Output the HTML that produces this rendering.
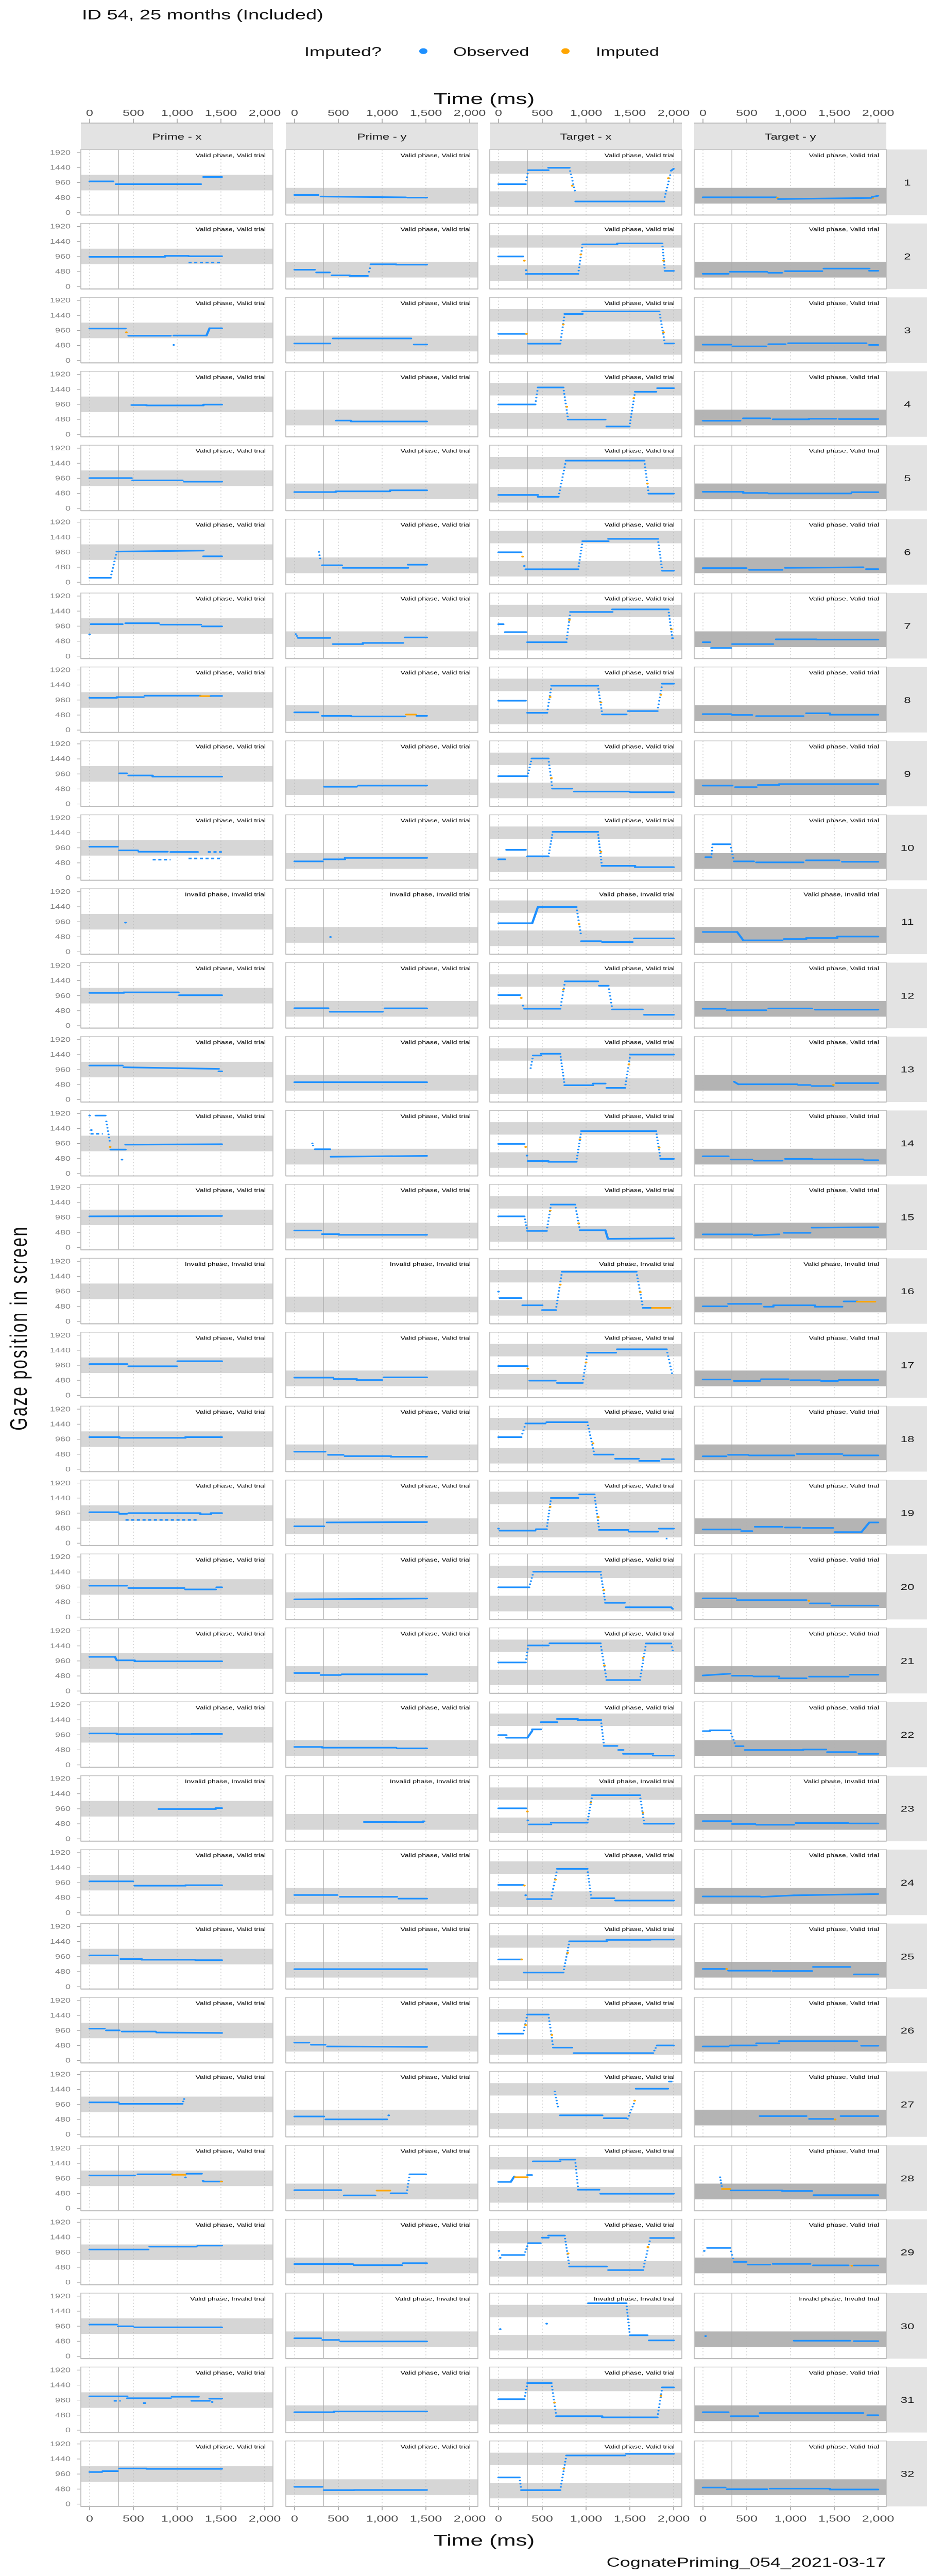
<!DOCTYPE html>
<html><head><meta charset="utf-8"><style>
html,body{margin:0;padding:0;background:#fff;width:100vw;height:100vh;overflow:hidden}
svg{display:block;position:absolute;left:0;top:0}
svg text{font-family:"Liberation Sans",sans-serif}
</style></head><body>
<svg id="chart" xmlns="http://www.w3.org/2000/svg" width="100%" height="100%" viewBox="0 0 1800 7200" preserveAspectRatio="none">
<rect x="0" y="0" width="1800" height="7200" fill="#fff"/>
<text x="159" y="54" font-size="38" fill="#111">ID 54, 25 months (Included)</text>
<g>
<text x="591" y="157" font-size="36" fill="#111">Imputed?</text>
<circle cx="822" cy="143" r="8" fill="#1E90FF"/>
<text x="880" y="156" font-size="34" fill="#111">Observed</text>
<circle cx="1098" cy="143" r="8" fill="#FFA500"/>
<text x="1157" y="156" font-size="34" fill="#111">Imputed</text>
</g>
<text x="940" y="291" font-size="44" text-anchor="middle" fill="#111">Time (ms)</text>
<text x="940" y="7115" font-size="44" text-anchor="middle" fill="#111">Time (ms)</text>
<text transform="translate(52,3712) rotate(-90)" font-size="46" text-anchor="middle" fill="#111" letter-spacing="4">Gaze position in screen</text>
<text x="1720" y="7174" font-size="36" text-anchor="end" fill="#111">CognatePriming_054_2021-03-17</text>
<g id="plots"></g>
</svg>
<script>
const facetNames = ["Prime - x","Prime - y","Target - x","Target - y"];
const xTicks = [0,500,1000,1500,2000];
const xTickLabels = ["0","500","1,000","1,500","2,000"];
const yTicks = [0,480,960,1440,1920];
const yTickLabels = ["0","480","960","1440","1920"];
const onsetTime = 330;
const bandsLight = [[[713,1210]],[[290,792]],[[1245,1642],[184,681]],[]];
const bandsDark = [[],[],[],[[290,792]]];
const labelsPrime = ["V","V","V","V","V","V","V","V","V","V","I","V","V","V","V","I","V","V","V","V","V","V","I","V","V","V","V","V","V","VI","V","V"];
const labelsTarget = ["V","V","V","V","V","V","V","V","V","V","VI","V","V","V","V","VI","V","V","V","V","V","V","VI","V","V","V","V","V","V","I","V","V"];
const labelText = {V:"Valid phase, Valid trial", I:"Invalid phase, Invalid trial", VI:"Valid phase, Invalid trial"};
// segments: [t0,t1,y] flat observed; [t0,t1,y0,y1] sloped; [t0,t1,y0,y1,k] k=1 dotted, 2 imputed line, 3 imputed dot, 4 sparse observed
const gaze = [
[[[0,270,1000],[300,1270,910],[1300,1510,1140]],[[0,270,565],[300,1270,515,490],[1290,1510,480]],[[0,310,911],[310,340,911,1357,1],[340,570,1357],[570,810,1434],[810,880,1434,600,1],[842,842,860,860,3],[880,1890,358],[1890,1970,400,1300,1],[1940,1940,1100,1100,3],[1970,2000,1340,1400]],[[0,835,491],[850,850,470,470,3],[860,1930,435,471],[1940,1940,470,470,3],[1930,2000,500,540]]],
[[[0,860,950],[860,1130,980],[1130,1510,970],[1130,1510,768,768,4]],[[0,230,538],[250,400,451],[425,630,359],[630,835,340],[840,870,360,700,1],[870,1160,713],[1160,1510,700]],[[0,280,961],[295,295,828,828,3],[315,315,520,520,1],[315,910,405],[910,960,405,1348,1],[940,940,1026,1026,3],[960,1355,1348],[1355,1870,1380],[1870,1900,1380,501,1],[1885,1885,828,828,3],[1900,2000,501]],[[0,290,409],[310,730,474],[750,900,441],[940,1360,492],[1380,1900,575],[1900,2000,506]]],
[[[0,410,1021],[420,420,900,900,3],[445,925,791],[960,1335,796],[1335,1370,796,1030],[1370,1510,1030],[950,970,497,497,4]],[[0,405,543],[440,1330,704],[1365,1510,510]],[[0,310,851],[320,320,851,851,3],[340,705,538],[705,755,538,1486,1],[740,740,1150,1150,3],[755,960,1486],[960,1836,1569],[1836,1900,1569,543,1],[1885,1885,902,902,3],[1900,2000,543]],[[0,320,506],[340,720,451],[750,940,520],[975,1865,552],[1900,2000,497]]],
[[[480,650,938],[650,1300,925],[1300,1510,952]],[[475,645,442],[645,1510,414]],[[0,420,957],[420,450,957,1500,1],[450,740,1500],[740,795,1500,474,1],[780,780,883,883,3],[795,1220,474],[1235,1495,253],[1495,1560,253,1362,1],[1545,1545,1159,1159,3],[1560,1800,1362],[1815,2000,1477]],[[0,425,437],[460,765,515],[800,1210,483],[1210,1520,501],[1555,2000,492]]],
[[[0,480,966],[490,1060,892],[1080,1510,851]],[[0,470,520],[470,1090,543],[1090,1510,575]],[[0,450,428],[450,685,368],[685,770,368,1523,1],[770,1665,1523],[1665,1715,1523,469,1],[1700,1700,791,791,3],[1715,2000,469]],[[0,460,529],[460,735,492],[750,1690,474],[1700,2000,515]]],
[[[0,240,143],[240,310,143,980,1],[310,1300,980,1012],[1300,1510,828]],[[270,300,1072,658,1],[315,540,543],[555,1295,460],[1295,1510,561]],[[0,260,957],[275,275,819,819,3],[295,295,520,520,1],[310,910,414],[910,960,414,1311,1],[960,1255,1311],[1255,1820,1385],[1820,1870,1385,368,1],[1870,2000,368]],[[0,495,451],[530,905,396],[940,1830,460,478],[1865,2000,419]]],
[[[0,0,695,695,1],[15,375,1021],[410,790,1053],[810,1270,1007],[1285,1510,952]],[[0,40,768,584,1],[40,405,584],[440,780,386],[780,1240,423],[1260,1510,598]],[[0,55,1021],[75,315,768],[330,775,446],[775,820,446,1412,1],[810,810,1159,1159,3],[820,1300,1412],[1300,1940,1495],[1940,1985,1495,575,1],[1975,1975,860,860,3],[1985,1990,575]],[[0,80,446],[95,320,262],[335,800,386],[835,1295,538],[1295,2000,529]]],
[[[0,310,1030],[310,615,1053],[630,1265,1099],[1265,1385,1085,1085,2],[1385,1510,1090]],[[0,270,566],[315,645,455],[645,1260,437],[1275,1385,497,497,2],[1395,1510,455]],[[0,310,938],[330,555,552],[555,605,552,1417,1],[590,590,1058,1058,3],[605,1135,1417],[1135,1185,1417,501,1],[1170,1170,883,883,3],[1185,1460,501],[1480,1815,607],[1815,1870,607,1481,1],[1855,1855,1127,1127,3],[1870,2000,1481]],[[0,320,510],[335,560,483],[610,1145,446],[1180,1450,538],[1450,2000,492]]],
[[[340,425,980],[445,720,911],[720,1510,874]],[[340,710,552],[730,1510,589]],[[0,330,888],[330,380,888,1454,1],[380,570,1454],[570,615,1454,492,1],[605,605,828,828,3],[615,840,492],[865,1495,396],[1505,2000,377]],[[0,335,589],[370,610,538],[630,870,607],[870,2000,635]]],
[[[0,320,998],[340,550,879],[560,890,837],[925,1235,828],[1350,1510,828,828,4],[720,925,584,584,4],[1130,1510,621,621,4]],[[0,320,529],[335,575,593],[575,1510,639]],[[0,75,593],[90,310,897],[330,570,690],[570,620,690,1472,1],[620,1135,1472],[1135,1180,1472,386,1],[1170,1170,837,837,3],[1180,1560,386],[1560,2000,345]],[[30,95,662],[95,110,662,1076,1],[110,310,1076],[310,355,1076,529,1],[355,580,529],[610,1145,497],[1180,1555,561],[1590,2000,515]]],
[[[410,410,934,934,1]],[[410,410,474,474,1]],[[0,385,915],[385,450,915,1431],[450,890,1431],[890,945,1431,483,1],[920,920,888,888,3],[945,1170,340],[1185,1530,313],[1550,2000,428]],[[0,390,635],[390,460,635,368],[460,905,368],[925,1180,409],[1180,1535,442],[1535,2000,488]]],
[[[0,390,1049],[390,1015,1067],[1025,1510,975]],[[0,385,561],[405,1005,446],[1030,1510,557]],[[0,245,980],[260,260,888,888,3],[280,280,644,644,1],[295,705,543],[705,760,543,1417,1],[740,740,1155,1155,3],[760,1135,1417],[1150,1255,1279],[1255,1300,1279,520,1],[1300,1645,520],[1665,2000,350]],[[0,255,543],[275,720,497],[750,1245,552],[1280,2000,515]]],
[[[0,375,1090],[390,1475,1035,984],[1475,1510,906]],[[0,1510,557]],[[360,395,906,1412,1],[395,485,1412],[485,705,1467],[705,755,1467,460,1],[755,1080,460],[1080,1220,515],[1235,1445,377],[1445,1505,377,1440,1],[1490,1490,1127,1127,3],[1505,2000,1440]],[[355,405,575,492],[405,1075,492],[1090,1225,469],[1245,1485,437],[1490,1490,470,470,3],[1520,2000,529]]],
[[[0,0,1854,1854,1],[70,180,1854],[10,150,1270,1270,4],[20,20,1389,1389,1],[185,235,1771,943,1],[235,235,851,851,3],[240,410,768],[370,370,446,446,1],[410,1510,925,938]],[[195,220,1035,828,1],[235,405,777],[415,1510,538,566]],[[0,295,948],[310,310,851,851,3],[325,325,575,575,1],[335,570,400],[570,890,377],[890,945,377,1357,1],[930,930,1095,1095,3],[945,1800,1357],[1800,1850,1357,469,1],[1835,1835,828,828,3],[1850,2000,469]],[[0,290,552],[320,560,451],[585,905,414],[940,1245,469],[1245,1830,455],[1845,2000,428]]],
[[[0,1510,994,1008]],[[0,300,543],[315,505,428],[505,1510,405]],[[0,295,994],[295,330,994,529,1],[330,550,529],[550,600,529,1371,1],[590,590,1178,1178,3],[600,875,1371],[875,930,1371,552,1],[915,915,773,773,3],[930,1220,552],[1220,1250,552,276],[1250,2000,276,294]],[[0,560,419],[585,870,391,420],[925,1225,469],[1245,2000,635,648]]],
[[],[],[[0,0,952,952,1],[15,260,745],[275,500,515],[500,655,363],[655,725,363,1587,1],[705,705,1173,1173,3],[725,1575,1587],[1575,1650,1587,432,1],[1620,1620,938,938,3],[1650,1755,432],[1755,1960,432,432,2]],[[0,275,483],[290,665,561],[700,805,469],[805,1280,515],[1280,1590,469],[1610,1760,639],[1760,1965,630,630,2]]],
[[[0,430,998],[445,995,929],[1005,1510,1090]],[[0,440,566],[450,710,520],[710,1000,488],[1020,1510,575]],[[0,330,934],[335,335,851,851,3],[355,650,469],[670,960,396],[960,1015,396,1362,1],[1000,1000,1049,1049,3],[1015,1340,1362],[1355,1920,1472],[1920,1990,1472,598,1]],[[0,310,506],[355,650,460],[665,975,515],[1005,1335,483],[1350,1540,460],[1555,2000,492]]],
[[[0,340,1026],[340,1095,1003],[1095,1510,1026]],[[0,350,561],[385,555,460],[575,1100,419],[1100,1510,400]],[[0,260,1026],[260,310,1026,1463,1],[310,535,1463],[550,1015,1504],[1015,1095,1504,469,1],[1080,1080,828,828,3],[1095,1310,469],[1335,1600,336],[1610,1835,267],[1870,2000,322]],[[0,265,414],[290,515,460],[530,1040,442],[1075,1590,488],[1610,2000,442]]],
[[[0,330,989],[340,425,938],[445,1265,961],[1265,1385,925],[1385,1510,961],[410,1230,745,745,4]],[[0,335,538],[370,1510,662,675]],[[0,0,465,465,1],[15,420,400],[430,550,446],[550,600,446,1444,1],[590,590,1159,1159,3],[600,910,1444],[925,1095,1559],[1095,1150,1559,423,1],[1140,1140,833,833,3],[1150,1480,423],[1490,1820,368],[1835,2000,465],[1910,1930,147,147,4]],[[0,425,437],[440,560,386],[595,905,524],[940,1110,501],[1145,1485,488],[1505,1810,354],[1810,1900,354,662],[1900,2000,662]]],
[[[0,425,1003],[445,1080,929],[1095,1440,883],[1450,1510,952]],[[0,1510,566,593]],[[0,350,952],[350,400,952,1449,1],[400,1165,1449],[1165,1220,1449,455,1],[1205,1205,865,865,3],[1220,1440,455],[1455,1970,313],[1970,1990,313,262]],[[0,375,598],[390,1180,543],[1210,1210,520,520,3],[1225,1450,437],[1470,2000,368]]],
[[[0,290,1090],[290,310,1090,980],[310,515,980],[515,1510,948]],[[0,280,575],[300,525,510],[540,1510,534]],[[0,310,911],[310,340,911,1454,1],[340,570,1454],[585,1165,1523],[1165,1235,1523,350,1],[1210,1210,819,819,3],[1235,1615,350],[1615,1685,350,1518,1],[1650,1650,1058,1058,3],[1685,1970,1518],[1970,2000,1518,1187,1]],[[0,310,497,552],[335,560,488],[580,870,465],[870,1180,405],[1215,1660,460],[1680,2000,520]]],
[[[0,310,1007],[310,1165,984],[1165,1510,989]],[[0,315,575],[315,1160,552],[1170,1510,529]],[[0,90,952],[90,330,869],[330,385,869,1090],[385,485,1136],[485,670,1366],[670,905,1467],[905,1170,1435],[1170,1205,1435,607,1],[1205,1355,607],[1370,1425,478],[1425,1765,354],[1765,2000,299]],[[0,80,1081],[80,310,1104],[310,375,1104,598,1],[375,460,598],[480,1145,478],[1145,1405,492],[1420,1745,409],[1780,2000,354]]],
[[[790,1440,952],[1440,1510,980]],[[795,1160,538],[1160,1465,534],[1465,1480,560]],[[0,315,975],[330,330,874,874,3],[335,335,589,589,1],[350,600,460],[600,1015,515],[1015,1070,515,1394,1],[1055,1055,1159,1159,3],[1070,1615,1394],[1615,1665,1394,483,1],[1650,1650,837,837,3],[1665,2000,483]],[[0,320,566],[335,595,474],[610,1040,451],[1060,1660,506],[1680,2000,492]]],
[[[0,495,1003],[515,1095,865],[1095,1510,879]],[[0,485,566],[520,1170,510],[1190,1510,451]],[[0,280,888],[295,295,870,870,3],[310,310,560,560,1],[330,600,437],[600,670,437,1403,1],[650,650,1058,1058,3],[670,1015,1403],[1015,1060,1403,465,1],[1060,1320,465],[1335,2000,391]],[[0,650,520],[665,1040,506,557],[1040,2000,557,598]]],
[[[0,320,998],[355,595,883],[595,1200,860],[1210,1510,846]],[[0,1510,561]],[[0,260,869],[265,265,869,869,3],[290,740,451],[740,810,451,1449,1],[790,790,1081,1081,3],[810,1235,1449],[1235,1735,1495],[1735,2000,1504]],[[0,255,566],[270,270,566,566,3],[290,770,511],[800,1245,501],[1260,1680,630],[1725,2000,391]]],
[[[0,170,1021],[190,340,966],[370,755,929],[765,1510,897,883]],[[0,165,575],[190,350,506],[375,1510,451,437]],[[0,280,860],[280,330,860,1472,1],[310,310,1136,1136,3],[330,570,1472],[570,625,1472,414,1],[610,610,819,819,3],[625,840,414],[860,1765,239],[1765,1810,239,483,1],[1810,2000,483]],[[0,290,451],[310,610,483],[610,870,552],[870,1760,621],[1810,2000,474]]],
[[[0,330,1026],[340,1060,980],[1060,1090,980,1210,1]],[[0,335,575],[355,1055,483],[1075,1075,612,612,1]],[[635,685,1472,793,1],[705,1185,612],[1205,1460,520],[1460,1560,405,1081,1],[1555,1555,1081,1081,3],[1570,1935,1463],[1950,1975,1690]],[[650,1180,589],[1215,1485,497],[1510,1510,480,480,3],[1575,2000,589]]],
[[[0,515,1053],[550,945,1090],[945,1095,1076,1076,2],[1095,1095,990,990,1],[1110,1280,1109],[1285,1310,900,860,1],[1300,1510,860],[1500,1510,860,860,2]],[[0,530,584],[565,920,414],[940,1090,570,570,2],[1100,1280,483],[1280,1315,483,1090,1],[1315,1500,1090]],[[0,140,846],[140,180,846,1021],[190,330,998,998,2],[330,380,1067],[395,705,1504],[705,875,1559],[875,910,1559,598,1],[910,1150,598],[1165,2000,469]],[[190,220,1090,621,1],[220,310,621,621,2],[320,905,575],[905,1245,557],[1265,2000,423]]],
[[[0,670,1049],[685,1220,1141],[1235,1510,1173]],[[0,665,584],[680,1225,548],[1240,1510,612]],[[5,5,1003,1003,1],[20,20,783,783,1],[40,295,874],[295,340,874,1251,1],[340,480,1251],[500,570,1426],[570,755,1495],[755,810,1495,506,1],[795,795,920,920,3],[810,1235,506],[1255,1650,391],[1650,1735,391,1417,1],[1705,1705,1127,1127,3],[1735,2000,1417]],[[15,15,1003,1003,1],[50,310,1099],[310,355,1099,653,1],[355,495,653],[515,765,566],[800,1225,589],[1260,1660,543],[1700,1700,530,530,3],[1725,2000,538]]],
[[[0,310,1012],[325,495,957],[515,1510,925]],[[0,300,575],[320,505,520],[525,1510,474]],[[20,20,865,865,1],[550,550,1040,1040,1],[1025,1460,1693],[1460,1500,1693,672,1],[1500,1700,672],[1720,2000,506]],[[30,30,644,644,1],[1040,1680,497],[1725,2000,483]]],
[[[0,430,1081],[430,925,1021],[940,1245,1067],[1165,1370,938],[1370,1510,1007],[275,355,938,938,4],[610,670,865,865,4],[1400,1400,900,900,1]],[[0,450,575],[450,1510,598]],[[0,295,989],[295,330,989,1504,1],[330,605,1504],[605,660,1504,446,1],[640,640,883,883,3],[660,1185,446],[1185,1815,409],[1815,1870,409,1366,1],[1855,1855,1099,1099,3],[1870,2000,1366]],[[0,290,575],[320,630,446],[650,1830,548],[1880,2000,478]]],
[[[0,140,1025],[150,320,1052],[340,650,1137],[650,1510,1125]],[[0,315,551],[335,680,447],[680,1510,451]],[[0,240,852],[240,260,852,447,1],[260,705,447],[705,775,447,1553,1],[745,745,1130,1130,3],[775,1445,1553],[1460,2000,1604]],[[0,255,528],[275,730,474],[765,1450,493],[1450,2000,466]]]
];

const NS = "http://www.w3.org/2000/svg";
const colX = [157,555,951,1348];
const PW = 373, PH = 183, ROW0 = 418, PITCH = 206.6;
function mk(tag, attrs, parent){const e=document.createElementNS(NS,tag);for(const k in attrs)e.setAttribute(k,attrs[k]);parent.appendChild(e);return e;}
function xScale(c,t){return colX[c]+17+t*0.17;}
function yScale(r,v){return ROW0+r*PITCH+8.4+(1920-v)*0.0875;}
const root = document.getElementById("plots");
const BLUE="#1E90FF", ORANGE="#FFA500";

for(let c=0;c<4;c++){
  const s=mk("rect",{x:colX[c],y:344,width:PW,height:74,fill:"#e3e3e3"},root);
  
  
  mk("line",{x1:colX[c],x2:colX[c]+PW,y1:344,y2:344,stroke:"#bdbdbd","stroke-width":3},root);
  const st=mk("text",{x:colX[c]+PW/2,y:390,"font-size":24,"text-anchor":"middle",fill:"#1a1a1a"},root);
  st.textContent=facetNames[c];
  
  
  for(let i=0;i<xTicks.length;i++){
    const x=xScale(c,xTicks[i]);
    mk("line",{x1:x,x2:x,y1:332,y2:344,stroke:"#9a9a9a","stroke-width":1.5},root);
    const tl=mk("text",{x:x,y:324,"font-size":25,"text-anchor":"middle",fill:"#4d4d4d"},root);
    tl.textContent=xTickLabels[i];
    
    
    mk("line",{x1:x,x2:x,y1:7006,y2:7016,stroke:"#9a9a9a","stroke-width":1.5},root);
    const bt=mk("text",{x:x,y:7048,"font-size":25,"text-anchor":"middle",fill:"#4d4d4d"},root);
    bt.textContent=xTickLabels[i];
    
    
  }
}

function dot(g,x,y,col,r){return mk("circle",{cx:x,cy:y,r:r||2.3,fill:col},g);}

for(let r=0;r<gaze.length;r++){
  const top=ROW0+r*PITCH;
  const strip=mk("rect",{x:1721,y:top,width:79,height:PH,fill:"#e3e3e3"},root);
  
  
  const num=mk("text",{x:1762,y:top+PH/2+9,"font-size":24,"text-anchor":"middle",fill:"#1a1a1a"},root);
  num.textContent=String(r+1);
  
  
  for(let i=0;i<yTicks.length;i++){
    const y=yScale(r,yTicks[i]);
    mk("line",{x1:149,x2:157,y1:y,y2:y,stroke:"#9a9a9a","stroke-width":1.5},root);
    const yl=mk("text",{x:137,y:y+6,"font-size":18,"text-anchor":"end",fill:"#7f7f7f"},root);
    yl.textContent=yTickLabels[i];
    
    
  }
  for(let c=0;c<4;c++){
    const g=mk("g",{},root);
    
    
    const x0=colX[c];
    mk("rect",{x:x0,y:top,width:PW,height:PH,fill:"#fff"},g);
    for(const b of bandsLight[c]){
      const band=mk("rect",{x:x0,y:yScale(r,b[1]),width:PW,height:yScale(r,b[0])-yScale(r,b[1]),fill:"#d6d6d6"},g);
      
      
    }
    for(const b of bandsDark[c]){
      const band=mk("rect",{x:x0,y:yScale(r,b[1]),width:PW,height:yScale(r,b[0])-yScale(r,b[1]),fill:"#b4b4b4"},g);
      
      
    }
    for(const t of xTicks){
      const x=xScale(c,t);
      mk("line",{x1:x,x2:x,y1:top,y2:top+PH,stroke:"#b0b0b0","stroke-width":1,"stroke-dasharray":"3,6"},g);
    }
    const ox=xScale(c,onsetTime);
    const on=mk("line",{x1:ox,x2:ox,y1:top,y2:top+PH,stroke:"#a8a8a8","stroke-width":1.2},g);
    
    
    for(const s of gaze[r][c]){
      let t0=s[0],t1=s[1],y0=s[2],y1=(s.length>3?s[3]:s[2]),k=(s.length>4?s[4]:0);
      const X0=xScale(c,t0),X1=xScale(c,t1),Y0=yScale(r,y0),Y1=yScale(r,y1);
      let el;
      if(k===0||k===2){
        const col=k===2?ORANGE:BLUE;
        el=mk("line",{x1:X0,x2:X1,y1:Y0,y2:Y1,stroke:col,"stroke-width":4.5,"stroke-linecap":"round"},g);
      } else if(k===3){
        el=dot(g,X0,Y0,ORANGE,2.6);
      } else if(k===4){
        el=mk("line",{x1:X0,x2:X1,y1:Y0,y2:Y1,stroke:BLUE,"stroke-width":4.5,"stroke-dasharray":"6,5"},g);
      } else {
        if(t0===t1&&y0===y1){el=dot(g,X0,Y0,BLUE,2.5);}
        else{
          el=mk("g",{},g);
          const n=Math.max(3,Math.round(Math.abs(Y1-Y0)/9));
          for(let i=1;i<n;i++){const f=i/n;dot(el,X0+(X1-X0)*f,Y0+(Y1-Y0)*f,BLUE,2.1);}
        }
      }
      
      
    }
    mk("rect",{x:x0,y:top,width:PW,height:PH,fill:"none",stroke:"#c4c4c4","stroke-width":2},g);
    mk("line",{x1:x0,x2:x0+PW,y1:top+PH,y2:top+PH,stroke:"#bdbdbd","stroke-width":3},g);
    const lab=(c<2?labelsPrime:labelsTarget)[r];
    const tx=mk("text",{x:x0+PW-14,y:top+21,"font-size":14,"text-anchor":"end",fill:"#000"},g);
    tx.textContent=labelText[lab];
    
    
  }
}
</script>
</body></html>
